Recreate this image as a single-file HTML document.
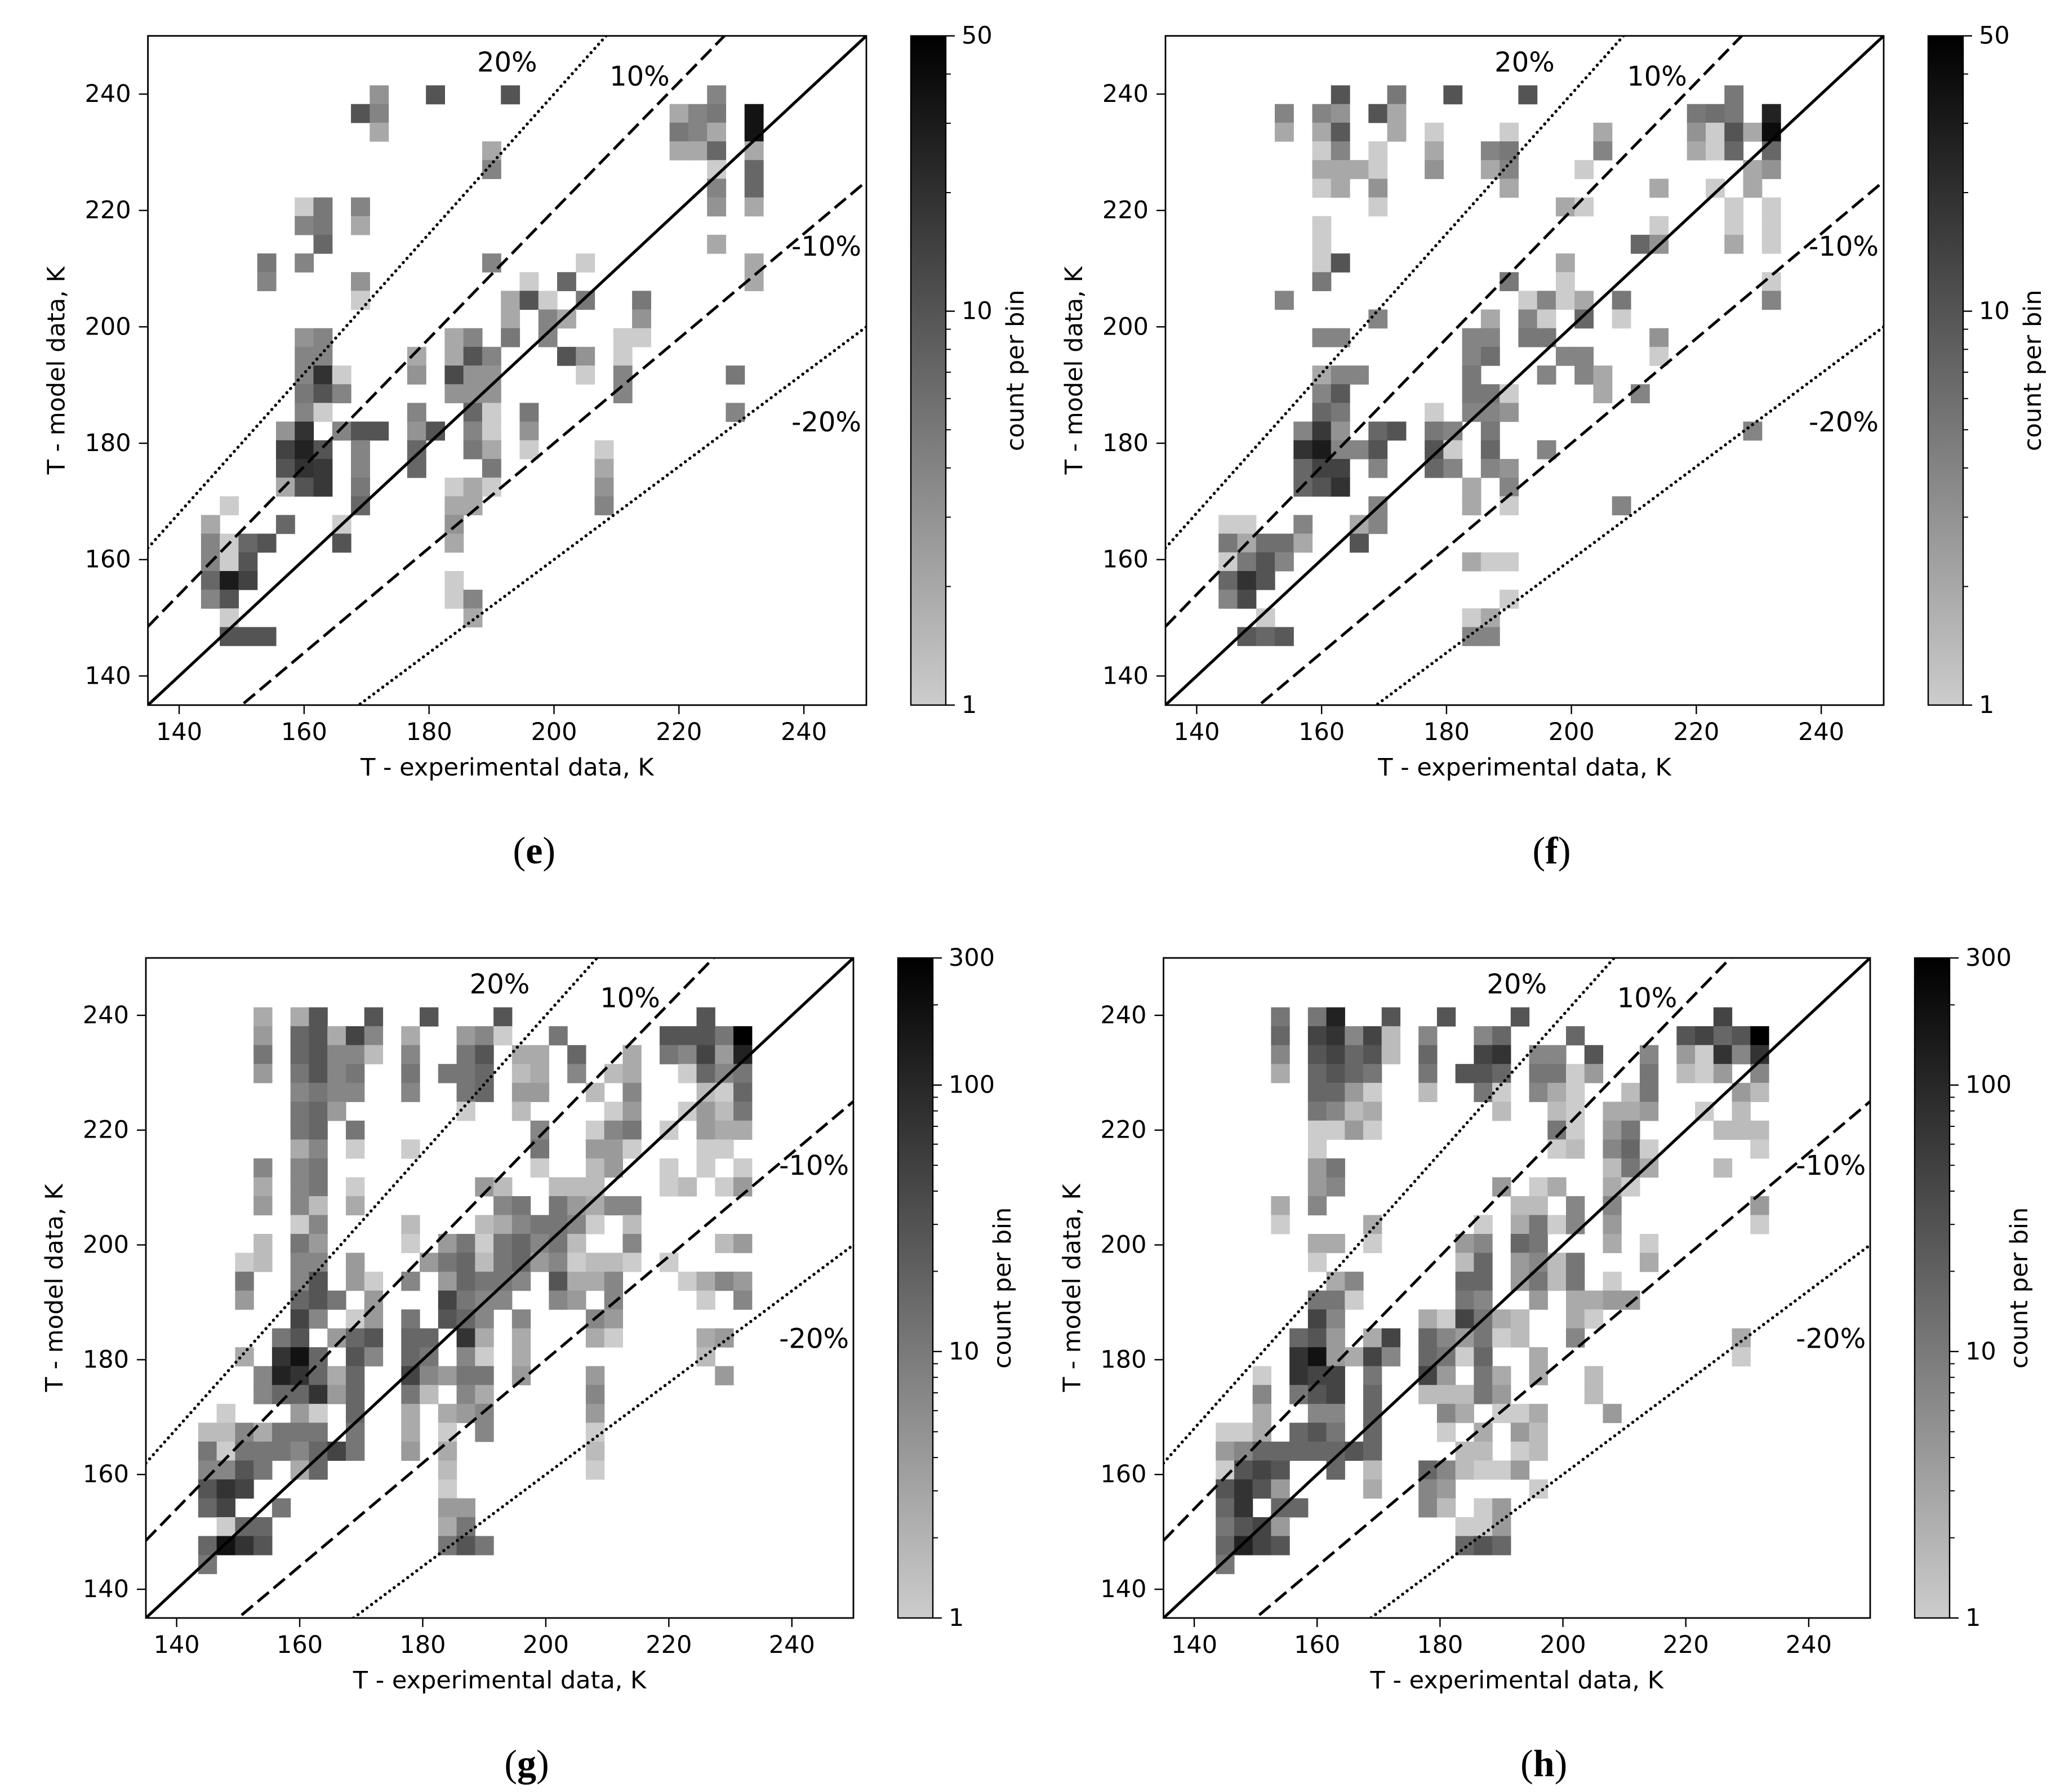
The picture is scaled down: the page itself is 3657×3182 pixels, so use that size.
<!DOCTYPE html>
<html><head><meta charset="utf-8"><style>
html,body{margin:0;padding:0;background:#fff}
svg{display:block}
text{font-family:"DejaVu Sans","Liberation Sans",sans-serif;fill:#000}
</style></head><body>
<svg id="fig" xmlns="http://www.w3.org/2000/svg" width="3657" height="3182" viewBox="0 0 3657 3182">
<defs>
<linearGradient id="cbgrad" x1="0" y1="1" x2="0" y2="0"><stop offset="0" stop-color="#cccccc"/><stop offset="1" stop-color="#000000"/></linearGradient>
</defs>
</svg>
<script>
// ---- data (bin column index, bin row index from top, count) ----
const binX0 = 143.5, binDX = 3.0;
const xTicks = [140,160,180,200,220,240];
const yTicks = [140,160,180,200,220,240];
const refLines = [1.0,1.1,0.9,1.2,0.8];
const refLabels = ["20%","10%","-10%","-20%"];
const cbTicksSmall = [1,10,50];
const cbTicksLarge = [1,10,100,300];
const cellsE = [[9,0,3],[12,0,10],[16,0,10],[27,0,4],[8,1,10],[9,1,4],[25,1,2],[26,1,4],[27,1,5],[29,1,35],[9,2,2],[25,2,5],[26,2,4],[27,2,2],[29,2,35],[15,3,2],[25,3,2],[26,3,2],[27,3,7],[29,3,2],[15,4,4],[27,4,1],[29,4,7],[27,5,4],[29,5,7],[5,6,1],[6,6,5],[8,6,4],[27,6,3],[29,6,2],[5,7,4],[6,7,5],[8,7,2],[6,8,7],[27,8,2],[3,9,5],[5,9,4],[15,9,4],[20,9,1],[29,9,2],[3,10,4],[8,10,3],[17,10,1],[19,10,7],[29,10,2],[8,11,1],[16,11,2],[17,11,10],[18,11,1],[20,11,5],[23,11,5],[16,12,2],[18,12,4],[19,12,2],[23,12,3],[5,13,3],[6,13,4],[13,13,2],[14,13,4],[16,13,5],[18,13,4],[22,13,1],[23,13,1],[5,14,4],[6,14,4],[11,14,2],[13,14,2],[14,14,10],[15,14,4],[19,14,10],[20,14,3],[22,14,1],[5,15,4],[6,15,19],[7,15,1],[11,15,3],[13,15,12],[14,15,3],[15,15,3],[20,15,1],[22,15,4],[28,15,5],[5,16,5],[6,16,10],[7,16,4],[13,16,3],[14,16,3],[15,16,3],[22,16,4],[5,17,4],[6,17,1],[11,17,4],[14,17,7],[15,17,1],[17,17,5],[28,17,4],[4,18,3],[5,18,19],[7,18,4],[8,18,10],[9,18,10],[11,18,3],[12,18,10],[14,18,4],[15,18,1],[17,18,3],[4,19,14],[5,19,26],[6,19,10],[8,19,4],[11,19,7],[14,19,5],[15,19,2],[17,19,1],[21,19,1],[4,20,10],[5,20,19],[6,20,17],[8,20,4],[11,20,7],[15,20,5],[21,20,2],[4,21,2],[5,21,10],[6,21,17],[8,21,5],[13,21,1],[14,21,2],[15,21,1],[21,21,3],[1,22,1],[8,22,7],[13,22,2],[14,22,2],[21,22,4],[0,23,2],[4,23,7],[7,23,1],[13,23,3],[0,24,4],[1,24,1],[2,24,7],[3,24,10],[7,24,10],[13,24,2],[0,25,4],[1,25,1],[2,25,10],[0,26,7],[1,26,30],[2,26,14],[13,26,1],[0,27,4],[1,27,10],[13,27,1],[14,27,4],[1,28,1],[14,28,2],[1,29,10],[2,29,10],[3,29,10]];
const cellsF = [[6,0,10],[9,0,5],[12,0,10],[16,0,10],[27,0,5],[3,1,4],[5,1,4],[6,1,3],[8,1,10],[9,1,2],[25,1,5],[26,1,6],[27,1,5],[29,1,26],[3,2,2],[5,2,2],[6,2,9],[9,2,2],[11,2,1],[15,2,1],[20,2,2],[25,2,3],[26,2,1],[27,2,10],[28,2,2],[29,2,40],[5,3,1],[6,3,4],[8,3,1],[11,3,2],[14,3,4],[15,3,5],[20,3,4],[25,3,2],[26,3,1],[27,3,7],[29,3,7],[5,4,2],[6,4,2],[7,4,2],[8,4,1],[11,4,3],[14,4,2],[15,4,4],[19,4,1],[28,4,2],[29,4,3],[5,5,1],[6,5,2],[8,5,3],[15,5,2],[23,5,2],[26,5,1],[28,5,2],[8,6,1],[18,6,2],[19,6,1],[27,6,1],[29,6,1],[5,7,1],[23,7,1],[27,7,1],[29,7,1],[5,8,1],[22,8,7],[23,8,3],[27,8,2],[29,8,1],[5,9,1],[6,9,10],[18,9,2],[5,10,5],[15,10,5],[18,10,1],[29,10,1],[3,11,4],[16,11,1],[17,11,4],[18,11,1],[19,11,2],[21,11,5],[29,11,4],[8,12,4],[14,12,2],[16,12,4],[17,12,1],[19,12,7],[21,12,1],[5,13,4],[6,13,4],[13,13,4],[14,13,4],[16,13,5],[17,13,5],[23,13,3],[13,14,4],[14,14,6],[18,14,4],[19,14,4],[23,14,1],[5,15,2],[6,15,4],[7,15,4],[13,15,5],[17,15,4],[19,15,4],[20,15,2],[5,16,4],[6,16,9],[13,16,5],[14,16,5],[15,16,1],[20,16,2],[22,16,4],[5,17,7],[6,17,5],[11,17,1],[13,17,4],[14,17,4],[15,17,3],[4,18,4],[5,18,17],[6,18,3],[8,18,7],[9,18,10],[11,18,5],[12,18,4],[14,18,5],[28,18,4],[4,19,19],[5,19,30],[6,19,4],[7,19,4],[8,19,10],[11,19,10],[12,19,1],[14,19,7],[17,19,4],[4,20,7],[5,20,14],[6,20,14],[8,20,4],[11,20,7],[12,20,4],[14,20,4],[15,20,3],[4,21,7],[5,21,10],[6,21,19],[13,21,2],[15,21,4],[8,22,4],[13,22,2],[15,22,1],[21,22,4],[0,23,1],[1,23,1],[4,23,4],[7,23,2],[8,23,4],[0,24,5],[1,24,2],[2,24,6],[3,24,6],[4,24,2],[7,24,10],[0,25,1],[1,25,5],[2,25,10],[3,25,4],[13,25,2],[14,25,1],[15,25,1],[0,26,7],[1,26,19],[2,26,10],[0,27,4],[1,27,12],[15,27,1],[2,28,1],[13,28,1],[14,28,2],[1,29,9],[2,29,7],[3,29,9],[13,29,4],[14,29,4]];
const cellsG = [[3,0,2.6],[5,0,2.6],[6,0,28],[9,0,28],[12,0,28],[16,0,28],[27,0,28],[3,1,4],[5,1,17],[6,1,28],[7,1,2.6],[8,1,45],[9,1,7],[11,1,2.6],[14,1,4],[15,1,7],[16,1,1],[19,1,11],[25,1,28],[26,1,28],[27,1,28],[28,1,11],[29,1,300],[3,2,11],[5,2,17],[6,2,28],[7,2,7],[8,2,7],[9,2,1.6],[11,2,7],[14,2,11],[15,2,28],[17,2,2.6],[18,2,2.6],[20,2,17],[23,2,2.6],[25,2,11],[26,2,7],[27,2,45],[28,2,4],[29,2,115],[3,3,4],[5,3,11],[6,3,28],[7,3,7],[8,3,11],[11,3,11],[13,3,11],[14,3,11],[15,3,17],[17,3,1.6],[18,3,2.6],[20,3,7],[22,3,1.6],[23,3,2.6],[26,3,1],[27,3,17],[28,3,7],[29,3,11],[5,4,7],[6,4,11],[7,4,7],[8,4,7],[11,4,7],[14,4,11],[15,4,17],[17,4,4],[18,4,4],[21,4,1.6],[23,4,7],[27,4,1.6],[28,4,1],[29,4,17],[5,5,11],[6,5,17],[7,5,4],[14,5,1],[17,5,1.6],[22,5,1],[23,5,4],[26,5,1],[27,5,4],[28,5,1.6],[29,5,11],[5,6,11],[6,6,17],[8,6,11],[18,6,7],[21,6,1],[22,6,7],[23,6,11],[25,6,1],[27,6,4],[28,6,2.6],[29,6,2.6],[5,7,2.6],[6,7,7],[8,7,1],[11,7,1],[18,7,11],[21,7,4],[22,7,4],[23,7,1],[27,7,1],[28,7,1],[3,8,7],[5,8,7],[6,8,11],[18,8,1],[21,8,1.6],[22,8,4],[25,8,1],[27,8,1],[29,8,1],[3,9,2.6],[5,9,7],[6,9,11],[8,9,1],[15,9,4],[16,9,1.6],[19,9,1.6],[20,9,1.6],[21,9,1.6],[25,9,1],[26,9,1.6],[28,9,1],[29,9,4],[3,10,4],[5,10,7],[6,10,1.6],[8,10,2.6],[16,10,7],[17,10,11],[19,10,11],[20,10,4],[21,10,2.6],[22,10,7],[23,10,7],[5,11,1],[6,11,7],[11,11,1.6],[15,11,1.6],[16,11,2.6],[17,11,7],[18,11,11],[19,11,11],[20,11,7],[21,11,1],[23,11,1.6],[3,12,1.6],[5,12,11],[6,12,4],[11,12,1],[13,12,4],[14,12,11],[15,12,1],[16,12,11],[17,12,17],[18,12,7],[19,12,11],[20,12,1.6],[23,12,7],[28,12,1.6],[29,12,4],[2,13,1],[3,13,1.6],[5,13,7],[6,13,7],[8,13,4],[12,13,4],[13,13,11],[14,13,17],[15,13,1.6],[16,13,11],[17,13,17],[18,13,4],[19,13,7],[20,13,1],[21,13,1.6],[22,13,1.6],[23,13,1],[25,13,1],[2,14,11],[5,14,7],[6,14,28],[8,14,4],[9,14,1],[11,14,7],[13,14,4],[14,14,17],[15,14,11],[16,14,11],[17,14,7],[19,14,28],[20,14,2.6],[21,14,2.6],[22,14,7],[26,14,1],[27,14,2.6],[28,14,7],[29,14,4],[2,15,4],[5,15,17],[6,15,28],[7,15,11],[9,15,4],[13,15,45],[14,15,11],[15,15,7],[16,15,7],[19,15,7],[20,15,4],[22,15,7],[27,15,1],[29,15,7],[5,16,45],[6,16,7],[8,16,1],[9,16,4],[11,16,11],[13,16,28],[14,16,17],[15,16,7],[17,16,7],[21,16,7],[22,16,4],[4,17,11],[5,17,28],[7,17,4],[8,17,17],[9,17,28],[11,17,17],[12,17,17],[14,17,72],[15,17,2.6],[17,17,2.6],[21,17,2.6],[22,17,1],[27,17,2.6],[28,17,4],[2,18,2.6],[4,18,72],[5,18,180],[6,18,17],[8,18,28],[9,18,7],[11,18,17],[12,18,11],[14,18,7],[15,18,1],[17,18,2.6],[27,18,1.6],[3,19,7],[4,19,115],[5,19,72],[6,19,17],[7,19,2.6],[8,19,17],[11,19,45],[12,19,7],[13,19,4],[14,19,11],[15,19,11],[17,19,4],[21,19,4],[28,19,4],[3,20,7],[4,20,17],[5,20,17],[6,20,72],[7,20,4],[8,20,17],[11,20,11],[12,20,1.6],[14,20,7],[15,20,2.6],[21,20,7],[1,21,1],[5,21,4],[6,21,1],[8,21,17],[11,21,2.6],[13,21,2.6],[14,21,4],[15,21,7],[21,21,4],[0,22,1.6],[1,22,1.6],[2,22,7],[3,22,2.6],[4,22,11],[5,22,11],[6,22,11],[8,22,11],[11,22,2.6],[13,22,1],[15,22,7],[21,22,1],[0,23,11],[1,23,1],[2,23,11],[3,23,11],[4,23,11],[5,23,7],[6,23,17],[7,23,45],[8,23,11],[11,23,4],[13,23,2.6],[21,23,1.6],[0,24,7],[1,24,7],[2,24,28],[3,24,11],[5,24,2.6],[6,24,17],[13,24,1.6],[21,24,1],[0,25,28],[1,25,72],[2,25,45],[13,25,1],[0,26,17],[1,26,45],[4,26,11],[13,26,4],[14,26,4],[1,27,1],[2,27,17],[3,27,17],[13,27,2.6],[14,27,11],[0,28,17],[1,28,180],[2,28,72],[3,28,28],[13,28,11],[14,28,28],[15,28,11],[0,29,11]];
const cellsH = [[3,0,11],[5,0,11],[6,0,115],[9,0,28],[12,0,28],[16,0,28],[27,0,45],[3,1,17],[5,1,45],[6,1,72],[7,1,7],[8,1,45],[9,1,1.6],[11,1,7],[14,1,7],[15,1,17],[19,1,17],[25,1,28],[26,1,45],[27,1,17],[28,1,28],[29,1,300],[3,2,7],[5,2,28],[6,2,45],[7,2,17],[8,2,28],[9,2,1.6],[11,2,17],[14,2,45],[15,2,72],[17,2,7],[18,2,7],[20,2,28],[23,2,7],[25,2,4],[26,2,1],[27,2,72],[28,2,7],[29,2,72],[3,3,2.6],[5,3,17],[6,3,28],[7,3,17],[8,3,11],[11,3,11],[13,3,28],[14,3,28],[15,3,17],[17,3,11],[18,3,11],[19,3,1],[20,3,4],[23,3,11],[25,3,1.6],[26,3,1],[27,3,4],[29,3,7],[5,4,17],[6,4,17],[7,4,4],[8,4,1],[11,4,1.6],[14,4,11],[15,4,1],[17,4,7],[18,4,2.6],[19,4,1],[22,4,1.6],[23,4,11],[28,4,4],[29,4,1.6],[5,5,11],[6,5,7],[7,5,1.6],[8,5,2.6],[15,5,1.6],[18,5,1.6],[19,5,1],[21,5,2.6],[22,5,2.6],[23,5,4],[26,5,1],[28,5,1.6],[5,6,1],[6,6,1],[7,6,4],[8,6,1],[18,6,11],[19,6,1],[21,6,4],[22,6,11],[27,6,1.6],[28,6,1.6],[29,6,1.6],[5,7,1],[18,7,1],[19,7,1.6],[21,7,7],[22,7,17],[23,7,1],[29,7,1],[5,8,4],[6,8,11],[21,8,1.6],[22,8,11],[23,8,2.6],[27,8,1.6],[5,9,4],[6,9,7],[15,9,4],[17,9,1],[18,9,2.6],[21,9,2.6],[22,9,1],[3,10,2.6],[5,10,7],[16,10,1.6],[17,10,1.6],[19,10,7],[21,10,7],[29,10,4],[3,11,1],[8,11,2.6],[14,11,1],[16,11,2.6],[17,11,11],[18,11,1],[19,11,7],[21,11,4],[29,11,1],[5,12,2.6],[6,12,2.6],[8,12,1],[13,12,4],[14,12,7],[16,12,17],[17,12,11],[21,12,2.6],[23,12,1],[5,13,1],[13,13,1.6],[14,13,17],[16,13,4],[17,13,7],[18,13,1.6],[19,13,11],[23,13,2.6],[6,14,2.6],[7,14,7],[13,14,17],[14,14,17],[16,14,4],[17,14,11],[18,14,1.6],[19,14,11],[21,14,1],[5,15,11],[6,15,11],[7,15,1],[13,15,11],[14,15,7],[17,15,4],[19,15,2.6],[20,15,2.6],[21,15,4],[22,15,4],[5,16,45],[6,16,7],[11,16,2.6],[12,16,1],[13,16,45],[14,16,11],[15,16,2.6],[16,16,1.6],[19,16,2.6],[20,16,1],[4,17,17],[5,17,28],[6,17,4],[8,17,2.6],[9,17,45],[11,17,17],[12,17,7],[13,17,4],[14,17,11],[15,17,1],[16,17,1.6],[19,17,7],[28,17,2.6],[4,18,72],[5,18,180],[6,18,4],[7,18,2.6],[8,18,45],[9,18,7],[11,18,17],[12,18,11],[13,18,1],[14,18,17],[17,18,2.6],[28,18,1],[2,19,1],[4,19,72],[5,19,45],[6,19,45],[8,19,11],[11,19,45],[12,19,4],[14,19,11],[15,19,2.6],[17,19,2.6],[20,19,1.6],[2,20,7],[4,20,11],[5,20,28],[6,20,45],[8,20,17],[11,20,1.6],[12,20,1.6],[13,20,1.6],[14,20,11],[15,20,4],[20,20,1.6],[2,21,2.6],[5,21,7],[6,21,7],[8,21,17],[12,21,7],[13,21,2.6],[15,21,1],[16,21,1],[17,21,2.6],[21,21,4],[0,22,1],[1,22,1],[2,22,2.6],[4,22,17],[5,22,28],[6,22,11],[8,22,17],[12,22,1],[14,22,2.6],[16,22,4],[17,22,1.6],[0,23,4],[1,23,7],[2,23,17],[3,23,17],[4,23,17],[5,23,17],[6,23,17],[7,23,28],[8,23,17],[13,23,1.6],[14,23,1.6],[16,23,1],[17,23,1.6],[0,24,1],[1,24,28],[2,24,45],[3,24,28],[6,24,17],[8,24,1.6],[11,24,17],[12,24,7],[13,24,1.6],[14,24,1],[15,24,1],[16,24,4],[0,25,28],[1,25,72],[2,25,28],[3,25,4],[8,25,2.6],[11,25,7],[12,25,4],[17,25,1],[0,26,17],[1,26,72],[3,26,17],[4,26,17],[11,26,7],[12,26,1.6],[14,26,1],[15,26,4],[0,27,11],[1,27,28],[2,27,45],[3,27,4],[13,27,1],[14,27,1],[15,27,4],[0,28,17],[1,28,115],[2,28,45],[3,28,28],[13,28,17],[14,28,28],[15,28,17],[0,29,11]];

const NS = "http://www.w3.org/2000/svg";
const svg = document.getElementById('fig');
function mk(tag, attrs, parent){
  const e = document.createElementNS(NS, tag);
  for (const k in attrs) e.setAttribute(k, attrs[k]);
  (parent||svg).appendChild(e);
  return e;
}
const panels = [
 {id:'e', cells:cellsE, vmax:50, cbt:cbTicksSmall, ax:[262.6,1538,63.7,1252], cb:[1617,1679], y0:241.5, dy:3.21},
 {id:'f', cells:cellsF, vmax:50, cbt:cbTicksSmall, ax:[2069,3344,63.7,1252], cb:[3423,3485], y0:241.5, dy:3.21},
 {id:'g', cells:cellsG, vmax:300, cbt:cbTicksLarge, ax:[259,1515,1701,2873], cb:[1594,1656], y0:241.4, dy:3.29},
 {id:'h', cells:cellsH, vmax:300, cbt:cbTicksLarge, ax:[2065.5,3320,1701,2873], cb:[3399,3461], y0:241.4, dy:3.29}
];
const LO = 135, HI = 250;
panels.forEach(p => {
  const [L,R,T,B] = p.ax;
  const xs = v => L + (v-LO)/(HI-LO)*(R-L);
  const ys = v => B - (v-LO)/(HI-LO)*(B-T);
  const g = mk('g', {});
  
  
  const clipId = 'clip'+p.id;
  const cp = mk('clipPath', {id:clipId}, g);
  mk('rect', {x:L, y:T, width:R-L, height:B-T}, cp);
  const hm = mk('g', {'clip-path':'url(#'+clipId+')'}, g);
  
  
  const lmax = Math.log(p.vmax);
  p.cells.forEach(c => {
    const x1 = xs(binX0 + c[0]*binDX), x2 = xs(binX0 + (c[0]+1)*binDX);
    const yt = ys(p.y0 - c[1]*p.dy), yb = ys(p.y0 - (c[1]+1)*p.dy);
    let v = 0.8*(1 - Math.log(Math.max(c[2],1))/lmax);
    v = Math.max(0, Math.min(0.8, v));
    const gv = Math.round(v*255);
    const r = mk('rect', {x:x1, y:yt, width:x2-x1+0.6, height:yb-yt+0.6, fill:'rgb('+gv+','+gv+','+gv+')'}, hm);
    
    
  });
  const lg = mk('g', {'clip-path':'url(#'+clipId+')', fill:'none', stroke:'#000'}, g);
  refLines.forEach(k => {
    const ln = mk('line', {x1:xs(LO), y1:ys(LO*k), x2:xs(HI), y2:ys(HI*k), 'stroke-width': k===1?5.2:5}, lg);
    if (k===1.1 || k===0.9) ln.setAttribute('stroke-dasharray','26 11');
    if (k===1.2 || k===0.8) { ln.setAttribute('stroke-dasharray','0 10'); ln.setAttribute('stroke-linecap','round'); ln.setAttribute('stroke-width','5.6'); }
    
    
  });
  const ann = [[192.5,245.4,refLabels[0]],[213.7,243.0,refLabels[1]],[243.6,213.8,refLabels[2]],[243.6,183.6,refLabels[3]]];
  ann.forEach(a => {
    const t = mk('text', {x:xs(a[0]), y:ys(a[1]), 'font-size':48, 'text-anchor':'middle', 'dominant-baseline':'central'}, g);
    t.textContent = a[2];
    
    
  });
  const fr = mk('rect', {x:L, y:T, width:R-L, height:B-T, fill:'none', stroke:'#000', 'stroke-width':2.8}, g);
  
  
  xTicks.forEach(v => {
    mk('line', {x1:xs(v), y1:B, x2:xs(v), y2:B+16, stroke:'#000', 'stroke-width':2.4}, g);
    const t = mk('text', {x:xs(v), y:B+48, 'font-size':43, 'text-anchor':'middle', 'dominant-baseline':'central'}, g);
    t.textContent = v;
    
    
  });
  yTicks.forEach(v => {
    mk('line', {x1:L-16, y1:ys(v), x2:L, y2:ys(v), stroke:'#000', 'stroke-width':2.4}, g);
    const t = mk('text', {x:L-30, y:ys(v), 'font-size':43, 'text-anchor':'end', 'dominant-baseline':'central'}, g);
    t.textContent = v;
    
    
  });
  const xl = mk('text', {x:(L+R)/2, y:B+111, 'font-size':43, 'text-anchor':'middle', 'dominant-baseline':'central'}, g);
  xl.textContent = 'T - experimental data, K';
  
  
  const yl = mk('text', {x:0, y:0, 'font-size':43, 'text-anchor':'middle', 'dominant-baseline':'central', transform:'translate('+(L-162)+','+((T+B)/2)+') rotate(-90)'}, g);
  yl.textContent = 'T - model data, K';
  
  
  const [cL,cR] = p.cb;
  const cbr = mk('rect', {x:cL, y:T, width:cR-cL, height:B-T, fill:'url(#cbgrad)', stroke:'#000', 'stroke-width':2.4}, g);
  
  
  const cy = v => B - Math.log(v)/lmax*(B-T);
  const minors = [];
  for (let d=1; d<p.vmax; d*=10) for (let m=2; m<10; m++) if (d*m < p.vmax) minors.push(d*m);
  minors.forEach(v => { if (p.cbt.indexOf(v)<0) mk('line', {x1:cR, y1:cy(v), x2:cR+9, y2:cy(v), stroke:'#000', 'stroke-width':2}, g); });
  p.cbt.forEach(v => {
    mk('line', {x1:cR, y1:cy(v), x2:cR+16, y2:cy(v), stroke:'#000', 'stroke-width':2.4}, g);
    const t = mk('text', {x:cR+28, y:cy(v), 'font-size':43, 'text-anchor':'start', 'dominant-baseline':'central'}, g);
    t.textContent = v;
    
    
  });
  const cl = mk('text', {x:0, y:0, 'font-size':43, 'text-anchor':'middle', 'dominant-baseline':'central', transform:'translate('+(cR+124)+','+((T+B)/2)+') rotate(-90)'}, g);
  cl.textContent = 'count per bin';
  
  
  const pl = mk('text', {x:(L+R)/2+48, y:B+258, 'font-size':68, 'text-anchor':'middle', 'dominant-baseline':'central', style:'font-family:"Liberation Serif",serif'}, g);
  pl.innerHTML = '(<tspan font-weight="bold">'+p.id+'</tspan>)';
  
  
});
</script>
</body></html>
